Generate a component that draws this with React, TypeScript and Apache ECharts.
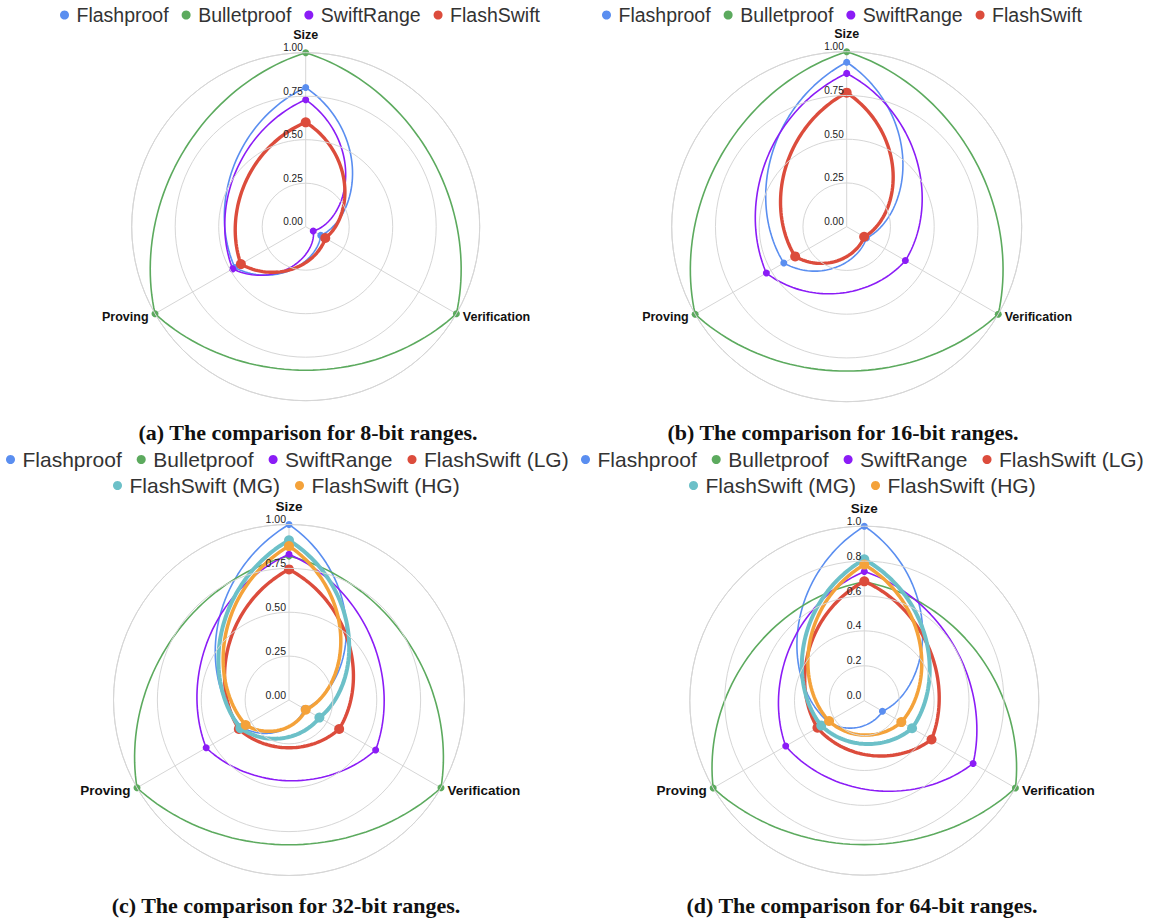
import React, { useEffect, useRef } from 'react';
import * as echarts from 'echarts';

// ---------- data ----------
const AXIS_NAMES = ['Size', 'Verification', 'Proving'];
const AXIS_ANGLES = [0, 120, 240];

const NAMES_TOP = ['Flashproof', 'Bulletproof', 'SwiftRange', 'FlashSwift'];
const NAMES_BOTTOM = ['Flashproof', 'Bulletproof', 'SwiftRange', 'FlashSwift (LG)', 'FlashSwift (MG)', 'FlashSwift (HG)'];

// (a) 8-bit ranges: [Size, Verification, Proving]
const A_FLASHPROOF = [0.80, 0.10, 0.47];
const A_BULLETPROOF = [1.0, 1.0, 1.0];
const A_SWIFTRANGE = [0.73, 0.05, 0.485];
const A_FLASHSWIFT = [0.60, 0.13, 0.43];

// (b) 16-bit ranges
const B_FLASHPROOF = [0.94, 0.13, 0.415];
const B_BULLETPROOF = [1.0, 1.0, 1.0];
const B_SWIFTRANGE = [0.876, 0.387, 0.53];
const B_FLASHSWIFT = [0.766, 0.115, 0.34];

// (c) 32-bit ranges
const C_FLASHPROOF = [1.0, 0.10, 0.31];
const C_BULLETPROOF = [0.82, 1.0, 1.0];
const C_SWIFTRANGE = [0.83, 0.57, 0.545];
const C_FLASHSWIFT_LG = [0.744, 0.33, 0.33];
const C_FLASHSWIFT_MG = [0.91, 0.20, 0.32];
const C_FLASHSWIFT_HG = [0.877, 0.11, 0.285];

// (d) 64-bit ranges
const D_FLASHPROOF = [1.0, 0.12, 0.24];
const D_BULLETPROOF = [0.68, 1.0, 1.0];
const D_SWIFTRANGE = [0.74, 0.72, 0.52];
const D_FLASHSWIFT_LG = [0.684, 0.445, 0.31];
const D_FLASHSWIFT_MG = [0.81, 0.316, 0.285];
const D_FLASHSWIFT_HG = [0.78, 0.245, 0.233];

const TITLES = [
  '(a) The comparison for 8-bit ranges.',
  '(b) The comparison for 16-bit ranges.',
  '(c) The comparison for 32-bit ranges.',
  '(d) The comparison for 64-bit ranges.',
];

// ---------- styles ----------
const SERIES_STYLE: Record<string, { color: string; width: number; size: number }> = {
  'Flashproof': { color: '#5a8ef0', width: 1.6, size: 7 },
  'Bulletproof': { color: '#5caa5e', width: 1.6, size: 7 },
  'SwiftRange': { color: '#8b1cf6', width: 1.6, size: 7 },
  'FlashSwift': { color: '#dc4c3c', width: 3.4, size: 10 },
  'FlashSwift (LG)': { color: '#dc4c3c', width: 3.4, size: 10 },
  'FlashSwift (MG)': { color: '#6cc0c8', width: 4, size: 10 },
  'FlashSwift (HG)': { color: '#f4a23a', width: 3.5, size: 10 },
};

const GRID = '#d6d6d6';
const SANS = 'Liberation Sans, Arial, sans-serif';
const SERIF = 'Liberation Serif, Times New Roman, serif';
const CURVE_W = 0.65; // blend between polar interpolation and straight chord
const STEPS = 48;

const PANELS = [
  {
    names: NAMES_TOP,
    values: [A_FLASHPROOF, A_BULLETPROOF, A_SWIFTRANGE, A_FLASHSWIFT],
    center: [305.7, 226.7], radius: 174, step: 0.25, dec: 2,
    axisFont: 12.5, tickFont: 10,
    legendFont: 19.5, legendGap: 13, legendRows: [{ left: 60, top: 5, names: NAMES_TOP }],
    title: TITLES[0], titlePos: [308, 432],
  },
  {
    names: NAMES_TOP,
    values: [B_FLASHPROOF, B_BULLETPROOF, B_SWIFTRANGE, B_FLASHSWIFT],
    center: [846.7, 226.7], radius: 175, step: 0.25, dec: 2,
    axisFont: 12.5, tickFont: 10,
    legendFont: 19.5, legendGap: 13, legendRows: [{ left: 602, top: 5, names: NAMES_TOP }],
    title: TITLES[1], titlePos: [843, 432],
  },
  {
    names: NAMES_BOTTOM,
    values: [C_FLASHPROOF, C_BULLETPROOF, C_SWIFTRANGE, C_FLASHSWIFT_LG, C_FLASHSWIFT_MG, C_FLASHSWIFT_HG],
    center: [289, 700], radius: 175.5, step: 0.25, dec: 2,
    axisFont: 13.5, tickFont: 10.5,
    legendFont: 21, legendGap: 15,
    legendRows: [
      { left: 6, top: 449, names: NAMES_BOTTOM.slice(0, 4) },
      { left: 113, top: 475, names: NAMES_BOTTOM.slice(4) },
    ],
    title: TITLES[2], titlePos: [286, 905],
  },
  {
    names: NAMES_BOTTOM,
    values: [D_FLASHPROOF, D_BULLETPROOF, D_SWIFTRANGE, D_FLASHSWIFT_LG, D_FLASHSWIFT_MG, D_FLASHSWIFT_HG],
    center: [864.3, 700.7], radius: 174.5, step: 0.2, dec: 1,
    axisFont: 13.5, tickFont: 10.5,
    legendFont: 21, legendGap: 15,
    legendRows: [
      { left: 581, top: 449, names: NAMES_BOTTOM.slice(0, 4) },
      { left: 689, top: 475, names: NAMES_BOTTOM.slice(4) },
    ],
    title: TITLES[3], titlePos: [862, 905],
  },
];

// curve through the three values: each edge blends the polar interpolation
// (radius varying linearly with angle) with the straight chord, all in pixel
// space obtained from the polar coordinate system.
function curvePath(vals: number[], coord: (d: number[]) => number[]): string {
  const parts: string[] = [];
  for (let k = 0; k < 3; k++) {
    const ra = vals[k];
    const rb = vals[(k + 1) % 3];
    const ta = AXIS_ANGLES[k];
    const tb = k === 2 ? 360 : AXIS_ANGLES[k + 1];
    const pa = coord([ra, ta]);
    const pb = coord([rb, tb]);
    for (let s = k === 0 ? 0 : 1; s <= STEPS; s++) {
      const t = s / STEPS;
      const q = coord([ra + (rb - ra) * t, ta + (tb - ta) * t]);
      const lx = pa[0] + (pb[0] - pa[0]) * t;
      const ly = pa[1] + (pb[1] - pa[1]) * t;
      const x = CURVE_W * q[0] + (1 - CURVE_W) * lx;
      const y = CURVE_W * q[1] + (1 - CURVE_W) * ly;
      parts.push((parts.length === 0 ? 'M ' : 'L ') + x.toFixed(2) + ' ' + y.toFixed(2));
    }
  }
  return parts.join(' ') + ' Z';
}

function buildOption() {
  const polar: any[] = [];
  const angleAxis: any[] = [];
  const radiusAxis: any[] = [];
  const series: any[] = [];
  const legend: any[] = [];
  const graphic: any[] = [];

  PANELS.forEach((p, i) => {
    polar.push({ center: p.center, radius: p.radius });
    angleAxis.push({
      polarIndex: i,
      type: 'value',
      min: 0,
      max: 360,
      interval: 120,
      startAngle: 90,
      clockwise: true,
      axisLine: { show: true, lineStyle: { color: GRID, width: 1 } },
      axisTick: { show: false },
      splitLine: { show: true, lineStyle: { color: GRID, width: 1 } },
      axisLabel: {
        margin: 4,
        color: '#111',
        formatter: (v: number) => {
          const k = AXIS_ANGLES.indexOf(v);
          if (k === 0) return '{s|' + AXIS_NAMES[0] + '}';
          if (k === 1) return '{v|' + AXIS_NAMES[1] + '}';
          if (k === 2) return '{p|' + AXIS_NAMES[2] + '}';
          return '';
        },
        rich: {
          s: { fontFamily: SANS, fontWeight: 'bold', fontSize: p.axisFont, color: '#111', lineHeight: 28 },
          v: { fontFamily: SANS, fontWeight: 'bold', fontSize: p.axisFont, color: '#111', lineHeight: 2, padding: [0, 0, 0, 3] },
          p: { fontFamily: SANS, fontWeight: 'bold', fontSize: p.axisFont, color: '#111', lineHeight: 2, padding: [0, 3, 0, 0] },
        },
      },
    });
    radiusAxis.push({
      polarIndex: i,
      type: 'value',
      min: 0,
      max: 1,
      interval: p.step,
      axisLine: { show: false },
      axisTick: { show: false },
      splitLine: { show: true, lineStyle: { color: GRID, width: 1 } },
      axisLabel: {
        show: true,
        showMinLabel: true,
        showMaxLabel: true,
        margin: 3,
        fontSize: p.tickFont,
        fontFamily: SANS,
        color: '#222',
        align: 'right',
        verticalAlign: 'bottom',
        formatter: (v: number) => v.toFixed(p.dec),
      },
      z: 5,
    });
    p.names.forEach((name, j) => {
      const st = SERIES_STYLE[name];
      const vals = p.values[j];
      const data = vals.map((v, k) => [v, AXIS_ANGLES[k]]);
      series.push({
        type: 'custom',
        name,
        coordinateSystem: 'polar',
        polarIndex: i,
        data,
        itemStyle: { color: st.color },
        z: 3,
        silent: true,
        renderItem: (params: any, api: any) => {
          const idx = params.dataIndex;
          const me = api.coord(data[idx]);
          const children: any[] = [];
          if (idx === 0) {
            children.push({
              type: 'path',
              shape: { pathData: curvePath(vals, (d) => api.coord(d)) },
              style: { fill: 'none', stroke: st.color, lineWidth: st.width, lineJoin: 'round' },
              silent: true,
            });
          }
          children.push({
            type: 'circle',
            shape: { cx: me[0], cy: me[1], r: st.size / 2 },
            style: { fill: st.color },
            silent: true,
          });
          return { type: 'group', children };
        },
      });
    });
    p.legendRows.forEach((row) => {
      legend.push({
        data: row.names,
        left: row.left,
        top: row.top,
        width: 600,
        orient: 'horizontal',
        icon: 'circle',
        itemWidth: 14,
        itemHeight: 9,
        itemGap: p.legendGap,
        padding: 0,
        selectedMode: false,
        itemStyle: { borderWidth: 0 },
        textStyle: { fontFamily: SANS, fontSize: p.legendFont, color: '#333' },
      });
    });
    graphic.push({
      type: 'text',
      x: p.titlePos[0],
      y: p.titlePos[1],
      style: {
        text: p.title,
        fontFamily: SERIF,
        fontWeight: 'bold',
        fontSize: 22,
        fill: '#111',
        align: 'center',
        verticalAlign: 'middle',
        textAlign: 'center',
        textVerticalAlign: 'middle',
      },
    });
  });

  return {
    animation: false,
    backgroundColor: '#ffffff',
    textStyle: { fontFamily: SANS },
    polar,
    angleAxis,
    radiusAxis,
    legend,
    series,
    graphic,
  };
}

export default function App() {
  const ref = useRef<HTMLDivElement>(null);
  useEffect(() => {
    if (!ref.current) return;
    const chart = echarts.init(ref.current, null, { renderer: 'svg' });
    chart.setOption(buildOption() as any);
    return () => chart.dispose();
  }, []);
  return (
    <div
      ref={ref}
      style={{ position: 'absolute', left: 0, top: 0, width: 1151, height: 920, background: '#fff' }}
    />
  );
}
